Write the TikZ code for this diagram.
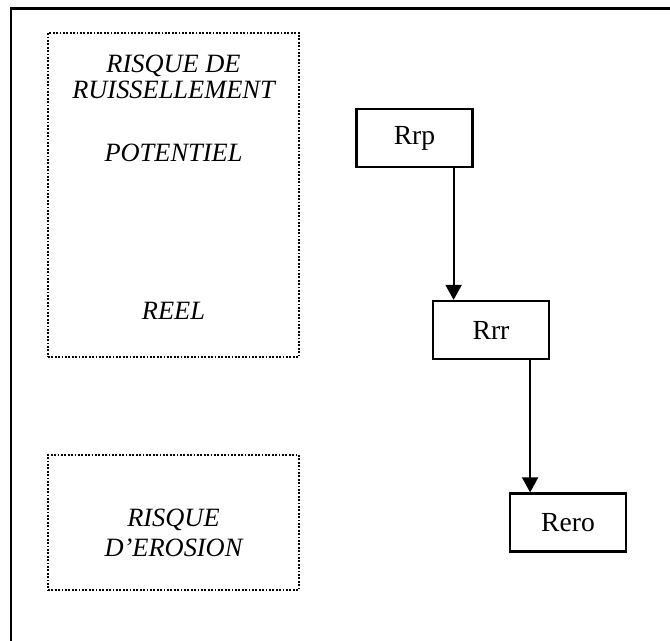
\documentclass[tikz,border=0pt]{standalone}
\usepackage{fontspec}
\setmainfont{Liberation Serif}
\usetikzlibrary{arrows.meta,positioning,calc}
\tikzset{
  frameln/.style={line width=1.4pt, line cap=rect},
  zonebox/.style={draw, line width=0.9pt, dash pattern=on 0.9pt off 0.8pt, inner sep=0pt},
  riskbox/.style={draw, line width=1.1pt, minimum width=58pt, minimum height=29pt, inner sep=0pt,
    font=\fontsize{13.8}{15}\selectfont},
  zonetxt/.style={anchor=base, inner sep=0pt, font=\fontsize{13.2}{15}\selectfont\itshape},
  flow/.style={-{Triangle[length=7.5pt,width=8pt]}, line width=0.9pt},
}

\begin{document}
\begin{tikzpicture}[x=0.5pt, y=-0.5pt]
    \useasboundingbox (0,0) rectangle (670,641);
    % outer frame (open on the right and at the bottom)
    \draw[frameln] (11,660) -- (11,8.7) -- (690,8.7);
    % dotted zones
    \node[zonebox, minimum width=125.5pt, minimum height=162pt] (zruis) at (173.5,195) {};
    \node[zonebox, minimum width=125.5pt, minimum height=67.5pt] (zero) at (173.5,522.5) {};
    \node[zonetxt] (trisq) at (173.5,72.7) {RISQUE DE};
    \node[zonetxt] (truis) at (173.5,99) {RUISSELLEMENT};
    \node[zonetxt] (tpot) at (173.5,162) {POTENTIEL};
    \node[zonetxt] (treel) at (173.5,320) {REEL};
    \node[zonetxt] (terisq) at (173.5,527) {RISQUE};
    \node[zonetxt] (tero) at (173.5,557) {D'EROSION};
    % risk chain
    \node[riskbox] (rrp) at (414.5,138) {Rrp};
    \node[riskbox] (rrr) at (491,330) {Rrr};
    \node[riskbox] (rero) at (568,522.5) {Rero};
    \draw[flow] ([xshift=-10pt]rrp.south east) -- ([xshift=-10pt]rrp.south east |- rrr.north);
    \draw[flow] ([xshift=-10pt]rrr.south east) -- ([xshift=-10pt]rrr.south east |- rero.north);
\end{tikzpicture}
\end{document}
